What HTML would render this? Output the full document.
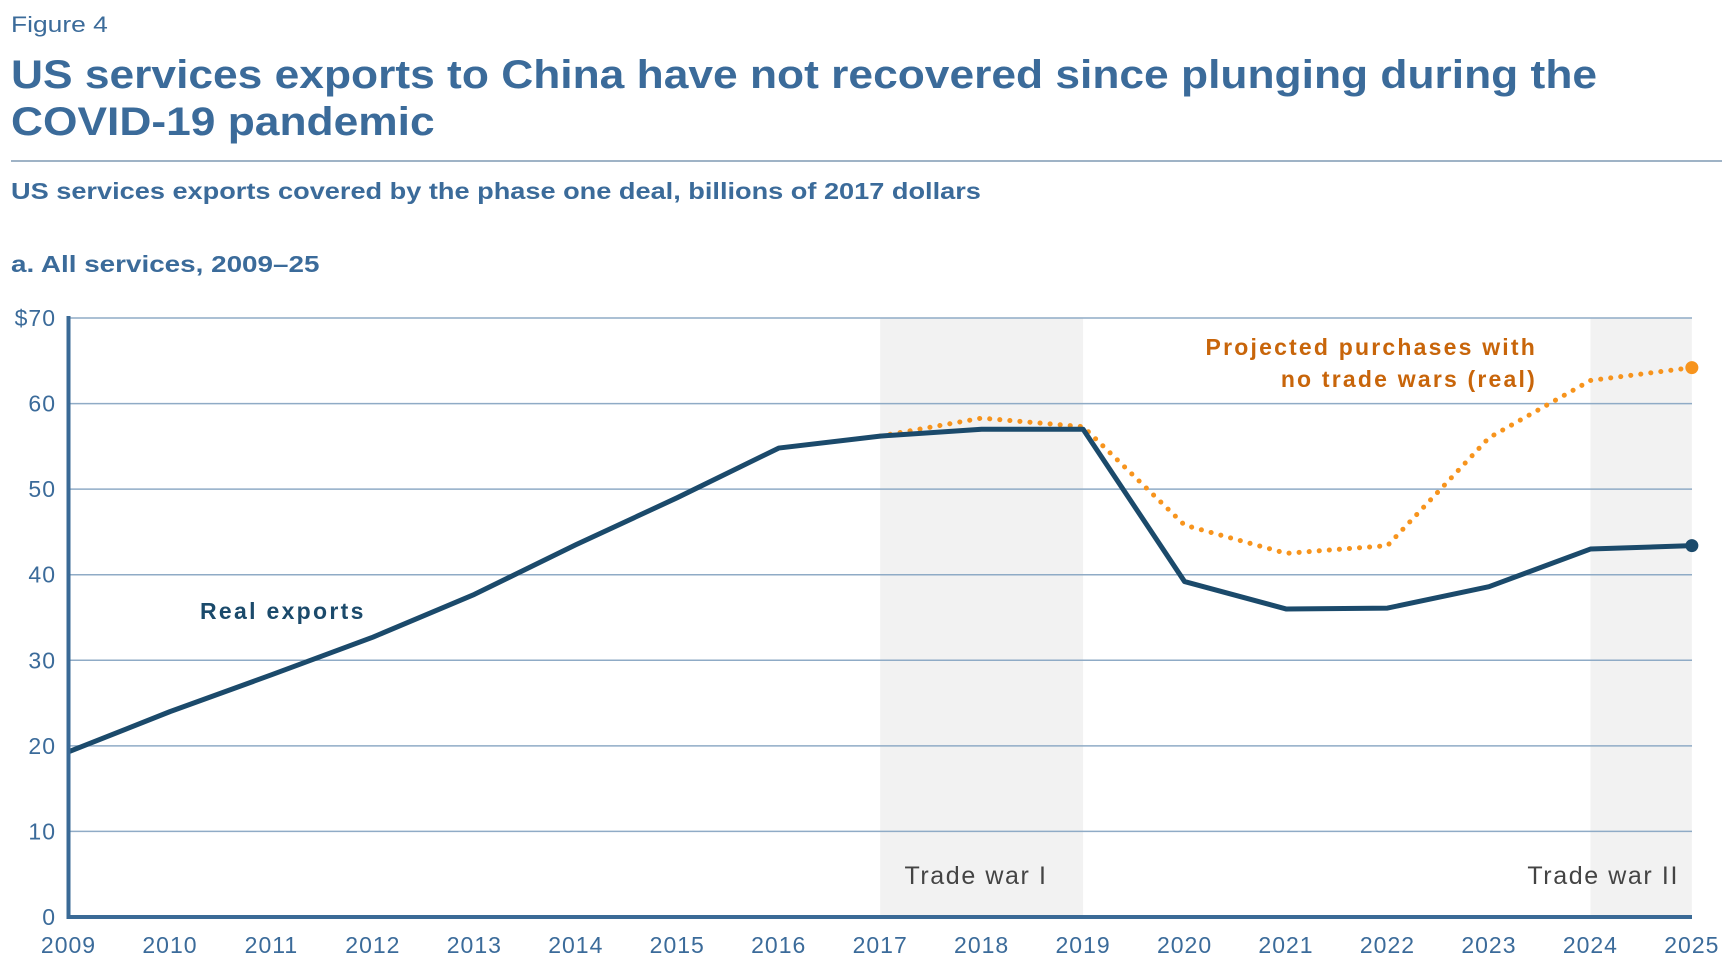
<!DOCTYPE html>
<html><head><meta charset="utf-8"><style>
body{margin:0;width:1732px;height:970px;background:#fff;font-family:"Liberation Sans",sans-serif;overflow:hidden;position:relative}
.t{position:absolute;color:#3b6b9a;white-space:nowrap;transform-origin:left top}
</style></head><body>
<div class="t" style="left:11px;top:12px;font-size:22px;transform:scaleX(1.2)">Figure 4</div>
<div class="t" style="left:11px;top:52px;font-size:40px;font-weight:bold;line-height:47px;transform:scaleX(1.108)">US services exports to China have not recovered since plunging during the<br>COVID-19 pandemic</div>
<div style="position:absolute;left:11px;top:160px;width:1711px;height:2px;background:#9fb3c6"></div>
<div class="t" style="left:11px;top:178px;font-size:23px;font-weight:bold;transform:scaleX(1.18)">US services exports covered by the phase one deal, billions of 2017 dollars</div>
<div class="t" style="left:11px;top:251px;font-size:23px;font-weight:bold;transform:scaleX(1.21)">a. All services, 2009–25</div>
<svg id="c" width="1732" height="970" style="position:absolute;left:0;top:0"></svg>
<script>
const years=[2009,2010,2011,2012,2013,2014,2015,2016,2017,2018,2019,2020,2021,2022,2023,2024,2025];
const realExports=[19.3,24,28.3,32.7,37.7,43.5,49,54.8,56.2,57,57,39.2,36,36.1,38.6,43,43.4];
const projYears=[2017,2018,2019,2020,2021,2022,2023,2024,2025];
const projected=[56.2,58.3,57.3,45.8,42.5,43.4,56,62.7,64.2];
const yTicks=[0,10,20,30,40,50,60,70];
const yTickLabels=["0","10","20","30","40","50","60","$70"];
const bands=[[2017,2019],[2024,2025]];
const NS="http://www.w3.org/2000/svg",svg=document.getElementById('c');
const X=y=>68.5+(y-2009)*101.46, Y=v=>917-v*(917-318)/70;
function mk(t,a,txt){const e=document.createElementNS(NS,t);for(const k in a)e.setAttribute(k,a[k]);if(txt!=null)e.textContent=txt;svg.appendChild(e);return e;}
bands.forEach((b,i)=>{const r=mk('rect',{x:X(b[0]),y:318,width:X(b[1])-X(b[0]),height:917-318,fill:'#f2f2f2'});

});
yTicks.forEach((v,i)=>{if(v>0){const l=mk('line',{x1:68,x2:1692,y1:Y(v),y2:Y(v),stroke:'#8fabc6','stroke-width':1.5});

}
const t=mk('text',{x:56,y:Y(v)+8,'text-anchor':'end','font-size':23,'letter-spacing':1,fill:'#3b6b9a','font-family':'Liberation Sans'},yTickLabels[i]);

});
years.forEach(y=>{const t=mk('text',{x:X(y),y:953,'text-anchor':'middle','font-size':23,'letter-spacing':1,fill:'#3b6b9a','font-family':'Liberation Sans'},y);

});
let t1=mk('text',{x:976,y:884,'text-anchor':'middle','font-size':25,'letter-spacing':1.6,fill:'#444','font-family':'Liberation Sans'},'Trade war I');


let t2=mk('text',{x:1679,y:884,'text-anchor':'end','font-size':25,'letter-spacing':1.6,fill:'#444','font-family':'Liberation Sans'},'Trade war II');


let pp=mk('polyline',{points:projYears.map((y,i)=>X(y)+','+Y(projected[i])).join(' '),fill:'none',stroke:'#f7941d','stroke-width':5,'stroke-dasharray':'0.1 10','stroke-linecap':'round'});


let pd=mk('circle',{cx:X(2025),cy:Y(projected[projected.length-1]),r:6.5,fill:'#f7941d'});


let rl=mk('polyline',{points:years.map((y,i)=>X(y)+','+Y(realExports[i])).join(' '),fill:'none',stroke:'#1b4a6b','stroke-width':5,'stroke-linejoin':'round'});


let rd=mk('circle',{cx:X(2025),cy:Y(realExports[realExports.length-1]),r:6.5,fill:'#1b4a6b'});


let ax=mk('path',{d:'M68.5 316 V917 H1692',fill:'none',stroke:'#3a6a96','stroke-width':4});


let l1=mk('text',{x:200,y:619,'font-size':23,'letter-spacing':2.3,'font-weight':'bold',fill:'#1b4a6b','font-family':'Liberation Sans'},'Real exports');


let l2=mk('text',{x:1537,y:355,'text-anchor':'end','font-size':23,'letter-spacing':2.2,'font-weight':'bold',fill:'#c8650a','font-family':'Liberation Sans'},'Projected purchases with');


let l3=mk('text',{x:1537,y:387,'text-anchor':'end','font-size':23,'letter-spacing':2.2,'font-weight':'bold',fill:'#c8650a','font-family':'Liberation Sans'},'no trade wars (real)');


</script>
</body></html>
